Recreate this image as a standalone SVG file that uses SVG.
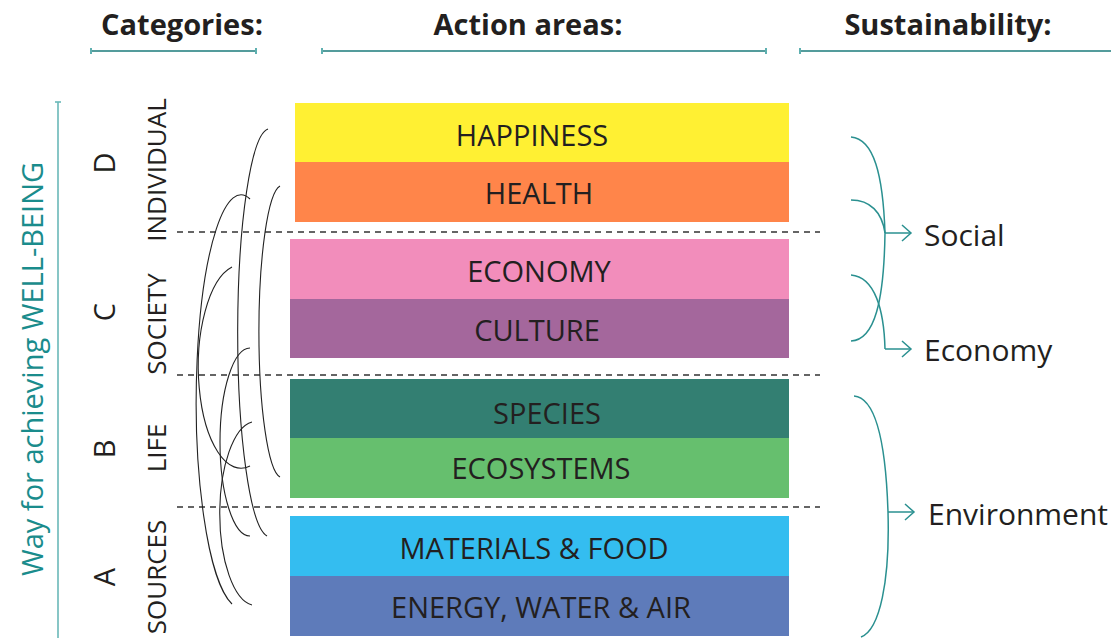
<svg xmlns="http://www.w3.org/2000/svg" width="1111" height="638" viewBox="0 0 1111 638">
<style>
text{font-family:"Open Sans","Liberation Sans",sans-serif;fill:#231f20}
.hd{font-size:29px;font-weight:bold;text-anchor:middle}
.bar{font-size:29px;text-anchor:middle}
.cat{font-size:29px;text-anchor:middle}
.cn{font-size:26px;text-anchor:middle}
.sus{font-size:30px}
.hl{stroke:#1b7b7b;stroke-width:1.6;fill:none}
.tk{stroke:#5fb0b0;stroke-width:2;fill:none}
.dash{stroke:#333;stroke-width:1.4;stroke-dasharray:6 5;fill:none}
.arc{stroke:#222;stroke-width:1.1;fill:none}
.br{stroke:#2a9090;stroke-width:1.5;fill:none}
</style>
<defs>
<marker id="chev" markerUnits="userSpaceOnUse" markerWidth="14" markerHeight="20" refX="10" refY="9" orient="auto">
<path d="M1,1 L10,9 L1,17" fill="none" stroke="#2a9090" stroke-width="1.5"/>
</marker>
</defs>
<rect width="1111" height="638" fill="#fff"/>
<g id="headers">
<text class="hd" x="182" y="35">Categories:</text>
<text class="hd" x="528" y="35">Action areas:</text>
<text class="hd" x="948" y="35">Sustainability:</text>
<line class="hl" x1="91" y1="51" x2="256" y2="51"/>
<line class="tk" x1="91" y1="48" x2="91" y2="54"/>
<line class="tk" x1="256" y1="48" x2="256" y2="54"/>
<line class="hl" x1="322" y1="51" x2="766" y2="51"/>
<line class="tk" x1="322" y1="48" x2="322" y2="54"/>
<line class="tk" x1="766" y1="48" x2="766" y2="54"/>
<line class="hl" x1="800" y1="51" x2="1111" y2="51"/>
<line class="tk" x1="800" y1="48" x2="800" y2="54"/>
</g>
<g id="wellbeing">
<line x1="58" y1="102" x2="58" y2="638" stroke="#6ab8b8" stroke-width="1.6"/>
<line x1="55" y1="102" x2="61" y2="102" stroke="#6ab8b8" stroke-width="1.6"/>
<text x="43" y="369" transform="rotate(-90 43 369)" style="font-size:29px;fill:#1a8c8c;text-anchor:middle">Way for achieving WELL-BEING</text>
</g>
<g id="categories">
<text class="cat" transform="translate(115 163) rotate(-90)">D</text>
<text class="cat" transform="translate(115 312) rotate(-90)">C</text>
<text class="cat" transform="translate(115 449) rotate(-90)">B</text>
<text class="cat" transform="translate(115 577) rotate(-90)">A</text>
<text class="cn" transform="translate(166 170) rotate(-90)">INDIVIDUAL</text>
<text class="cn" transform="translate(166 324) rotate(-90)">SOCIETY</text>
<text class="cn" transform="translate(166 448) rotate(-90)">LIFE</text>
<text class="cn" transform="translate(166 577) rotate(-90)">SOURCES</text>
</g>
<g id="separators">
<line class="dash" x1="177" y1="232" x2="820" y2="232"/>
<line class="dash" x1="177" y1="375" x2="820" y2="375"/>
<line class="dash" x1="177" y1="507" x2="820" y2="507"/>
</g>
<g id="happiness"><rect x="295" y="103" width="494" height="59" fill="#fff033"/><text class="bar" x="532" y="146">HAPPINESS</text></g>
<g id="health"><rect x="295" y="162" width="494" height="60" fill="#ff854a"/><text class="bar" x="539" y="204">HEALTH</text></g>
<g id="economy"><rect x="290" y="239" width="499" height="60" fill="#f28dbb"/><text class="bar" x="539" y="282">ECONOMY</text></g>
<g id="culture"><rect x="290" y="299" width="499" height="59" fill="#a4679c"/><text class="bar" x="537" y="341">CULTURE</text></g>
<g id="species"><rect x="290" y="379" width="499" height="59" fill="#337f72"/><text class="bar" x="547" y="424">SPECIES</text></g>
<g id="ecosystems"><rect x="290" y="438" width="499" height="60" fill="#66bf6e"/><text class="bar" x="541" y="479">ECOSYSTEMS</text></g>
<g id="materials"><rect x="290" y="516" width="499" height="60" fill="#34bdf0"/><text class="bar" x="534" y="559">MATERIALS &amp; FOOD</text></g>
<g id="energy"><rect x="290" y="576" width="499" height="60" fill="#5e7bba"/><text class="bar" x="541" y="618">ENERGY, WATER &amp; AIR</text></g>
<g id="social"><text class="sus" x="924" y="246">Social</text></g>
<g id="economy-s"><text class="sus" x="924" y="361">Economy</text></g>
<g id="environment"><text class="sus" x="928" y="525">Environment</text></g>
<g id="connectors">
<path class="arc" d="M268,129 A32,204 0 0 0 267,536"/>
<path class="arc" d="M280,186 A23,146 0 0 0 280,477"/>
<path class="arc" d="M250,199 A44,203 0 0 0 232,604"/>
<path class="arc" d="M232,267 A42,100 0 0 0 250,466"/>
<path class="arc" d="M250,348 A30,94 0 0 0 250,536"/>
<path class="arc" d="M252,422 A36,92 0 0 0 252,605"/>
<path class="br" d="M851,137 C874,139 883,175 885,233"/>
<path class="br" d="M851,200 C870,200 882,212 885,233"/>
<path class="br" d="M885,233 C884,300 875,340 851,341"/>
<path class="br" d="M851,275 C875,277 884,310 885,349"/>
<path class="br" d="M854,396 C878,398 886,450 888,512 C890,580 880,630 861,637"/>
<line class="br" x1="885" y1="233" x2="911" y2="233" marker-end="url(#chev)"/>
<line class="br" x1="885" y1="349" x2="911" y2="349" marker-end="url(#chev)"/>
<line class="br" x1="888" y1="512" x2="914" y2="512" marker-end="url(#chev)"/>
</g>
</svg>
